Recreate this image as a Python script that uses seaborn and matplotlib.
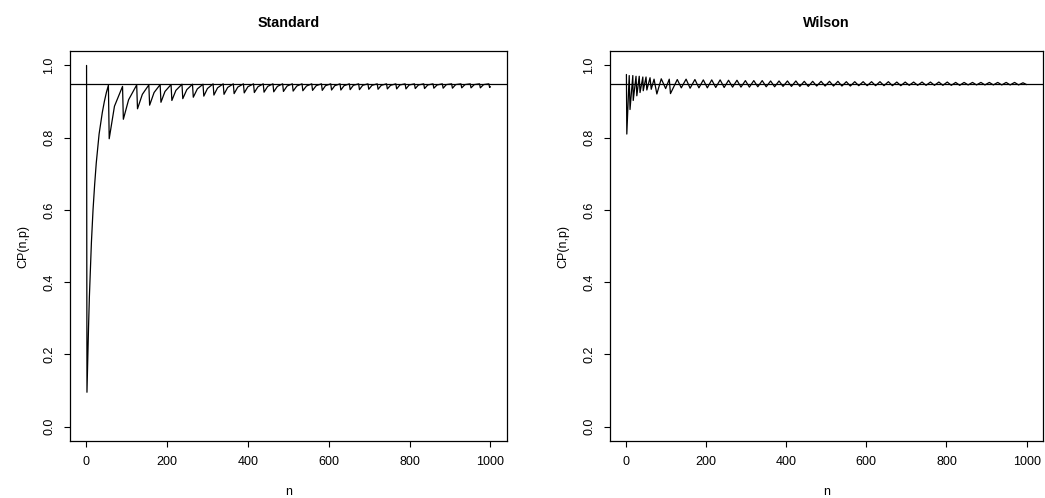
import matplotlib
matplotlib.use("Agg")
import matplotlib.pyplot as plt
import seaborn as sns
import pandas as pd

# ---- data ----
std_n = [1, 2, 4, 6, 8, 10, 13, 17, 21, 25, 32, 40, 45, 50, 55,
         57, 70, 90, 92, 105, 125, 127, 139, 155, 157, 168, 183,
         185, 195, 210, 212, 222, 237, 239, 249, 263, 265, 275, 289,
         291, 300, 314, 316, 325, 339, 341, 350, 364, 366, 375, 389,
         391, 400, 414, 416, 425, 438, 440, 449, 462, 464, 473, 486,
         488, 497, 510, 512, 521, 534, 536, 545, 558, 560, 569, 582,
         584, 592, 605, 607, 615, 628, 630, 638, 651, 653, 661, 674,
         676, 684, 697, 699, 707, 720, 722, 730, 743, 745, 753, 766,
         768, 776, 789, 791, 799, 812, 814, 822, 835, 837, 845, 858,
         860, 868, 881, 883, 891, 904, 906, 914, 927, 929, 937, 950,
         952, 960, 973, 975, 983, 996, 998, 1000]
std_cp = [1.0, 0.095, 0.19, 0.28, 0.36, 0.42, 0.51, 0.60, 0.67, 0.73, 0.81, 0.87, 0.90, 0.925, 0.945,
          0.797, 0.887, 0.942, 0.851, 0.905, 0.946, 0.880, 0.920, 0.946, 0.890, 0.925, 0.947,
          0.898, 0.928, 0.947, 0.903, 0.931, 0.948, 0.908, 0.933, 0.948, 0.912, 0.935, 0.948,
          0.915, 0.936, 0.949, 0.918, 0.938, 0.949, 0.920, 0.939, 0.949, 0.922, 0.940, 0.949,
          0.924, 0.941, 0.949, 0.925, 0.941, 0.949, 0.926, 0.942, 0.949, 0.927, 0.942, 0.949,
          0.928, 0.943, 0.949, 0.929, 0.943, 0.949, 0.930, 0.943, 0.949, 0.931, 0.944, 0.949,
          0.931, 0.944, 0.949, 0.932, 0.944, 0.949, 0.932, 0.944, 0.949, 0.933, 0.945, 0.949,
          0.933, 0.945, 0.949, 0.934, 0.945, 0.949, 0.934, 0.945, 0.949, 0.935, 0.945, 0.949,
          0.935, 0.946, 0.949, 0.935, 0.946, 0.949, 0.936, 0.946, 0.949, 0.936, 0.946, 0.949,
          0.937, 0.946, 0.949, 0.937, 0.947, 0.949, 0.937, 0.947, 0.949, 0.938, 0.947, 0.949,
          0.938, 0.947, 0.949, 0.938, 0.947, 0.949, 0.939, 0.941]

wil_n = [1, 2, 8, 10, 17, 18, 25, 27, 33, 35, 42, 43, 50, 52, 60, 63, 70, 77,
         88, 99, 108, 111, 128, 138, 150, 160, 172, 182, 193, 203, 214, 224,
         235, 245, 256, 266, 277, 287, 298, 308, 319, 329, 340, 350, 361, 371,
         382, 392, 403, 413, 424, 434, 445, 455, 466, 476, 487, 497, 508, 518,
         529, 539, 550, 560, 571, 581, 592, 602, 613, 623, 634, 644, 655, 665,
         676, 686, 697, 707, 718, 728, 739, 749, 760, 770, 781, 791, 802, 812,
         823, 833, 844, 854, 865, 875, 886, 896, 907, 917, 928, 938, 949, 959,
         970, 980, 991, 1000]
wil_cp = [0.975, 0.81, 0.972, 0.878, 0.972, 0.903, 0.970, 0.916, 0.970, 0.925,
          0.968, 0.930, 0.968, 0.932, 0.966, 0.934, 0.962, 0.921,
          0.963, 0.936, 0.962, 0.922, 0.961, 0.938, 0.962, 0.937, 0.961, 0.938,
          0.960, 0.938, 0.960, 0.939, 0.960, 0.939, 0.959, 0.940, 0.959, 0.940,
          0.958, 0.940, 0.958, 0.941, 0.958, 0.941, 0.957, 0.941, 0.957, 0.942,
          0.957, 0.942, 0.957, 0.942, 0.956, 0.942, 0.956, 0.943, 0.956, 0.943,
          0.956, 0.943, 0.956, 0.943, 0.955, 0.943, 0.955, 0.944, 0.955, 0.944,
          0.955, 0.944, 0.955, 0.944, 0.955, 0.944, 0.954, 0.944, 0.954, 0.945,
          0.954, 0.945, 0.954, 0.945, 0.954, 0.945, 0.954, 0.945, 0.954, 0.945,
          0.953, 0.945, 0.953, 0.946, 0.953, 0.946, 0.953, 0.946, 0.953, 0.946,
          0.953, 0.946, 0.953, 0.946, 0.953, 0.946, 0.952, 0.947]

target = 0.95
titles = ["Standard", "Wilson"]
xticks = [0, 200, 400, 600, 800, 1000]
yticks = [0.0, 0.2, 0.4, 0.6, 0.8, 1.0]
ytick_labels = ["0.0", "0.2", "0.4", "0.6", "0.8", "1.0"]

sns.set_theme(style="white")
plt.rcParams["font.family"] = ["Liberation Sans", "DejaVu Sans"]
plt.rcParams["text.color"] = "black"
plt.rcParams["axes.labelcolor"] = "black"

fig = plt.figure(figsize=(10.45, 4.98), dpi=100)
axL = fig.add_axes([70 / 1045, 57 / 498, 437 / 1045, 390 / 498])
axR = fig.add_axes([610 / 1045, 57 / 498, 433 / 1045, 390 / 498])

frames = [pd.DataFrame({"n": std_n, "cp": std_cp}),
          pd.DataFrame({"n": wil_n, "cp": wil_cp})]

for ax, df, title in zip([axL, axR], frames, titles):
    sns.lineplot(data=df, x="n", y="cp", ax=ax, color="black", lw=0.9,
                 estimator=None, sort=False)
    ax.axhline(target, color="black", lw=0.9)
    ax.set_xlim(-39.96, 1040.96)
    ax.set_ylim(-0.04, 1.04)
    ax.set_xticks(xticks)
    ax.set_xticklabels([str(t) for t in xticks])
    ax.set_yticks(yticks)
    ax.set_yticklabels(ytick_labels, rotation=90, va="center")
    ax.tick_params(axis="both", which="major", direction="out", length=4.5,
                   width=0.8, color="black", labelsize=9, pad=6,
                   labelcolor="black", bottom=True, left=True,
                   top=False, right=False)
    for s in ax.spines.values():
        s.set_visible(True)
        s.set_color("black")
        s.set_linewidth(0.9)
    ax.set_xlabel("n", fontsize=9, labelpad=13, color="black")
    ax.set_ylabel("CP(n,p)", fontsize=9, labelpad=10, color="black")
    ax.set_title(title, fontsize=10.3, fontweight="bold", pad=17, color="black")
    ax.grid(False)

fig.savefig("out.png", dpi=100, facecolor="white")
